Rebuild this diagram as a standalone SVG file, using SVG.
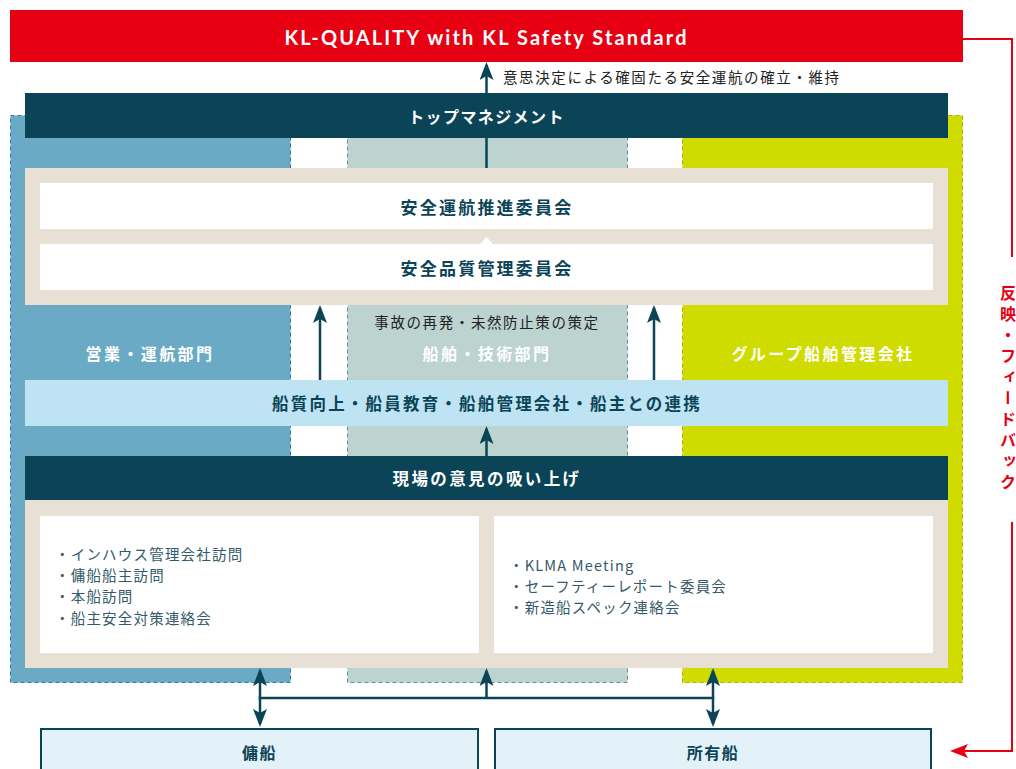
<svg xmlns="http://www.w3.org/2000/svg" width="1016" height="769" viewBox="0 0 1016 769">
<style>
.jp{font-family:'Noto Sans CJK JP','Noto Sans',sans-serif;dominant-baseline:central}
.b{font-weight:700}
.dk{fill:#0b4457}
.wh{fill:#ffffff}
.lst{fill:#34596a;font-size:14.5px;letter-spacing:1.2px}
.lbl{font-size:16px;letter-spacing:2.4px;font-weight:700;fill:#ffffff}
.cn{stroke:#0b4457;stroke-width:2.5;fill:none}
</style>
<defs>
<marker id="ah" viewBox="0 0 18 14" refX="15" refY="7" markerWidth="18" markerHeight="14" markerUnits="userSpaceOnUse" orient="auto-start-reverse">
<path d="M0,0 L18,7 L0,14 L4,7 Z" fill="#0b4457"/>
</marker>
<marker id="ahr" viewBox="0 0 18 14" refX="15" refY="7" markerWidth="18" markerHeight="14" markerUnits="userSpaceOnUse" orient="auto">
<path d="M0,0 L18,7 L0,14 L4,7 Z" fill="#e60012"/>
</marker>
</defs>
<rect width="1016" height="769" fill="#ffffff"/>

<g id="col-sales">
<rect x="10.5" y="115.5" width="280" height="567" fill="#6aaac5" stroke="#2d7ea6" stroke-width="1" stroke-dasharray="4 3"/>
<text class="jp lbl" x="150" y="353" text-anchor="middle">営業・運航部門</text>
</g>
<g id="col-tech">
<rect x="347.5" y="115.5" width="280" height="567" fill="#bcd3cf" stroke="#6a8b9a" stroke-width="1" stroke-dasharray="4 3"/>
<text class="jp lbl" x="487" y="353" text-anchor="middle">船舶・技術部門</text>
</g>
<g id="col-group">
<rect x="682.5" y="115.5" width="280" height="567" fill="#d0db00" stroke="#a8b000" stroke-width="1" stroke-dasharray="4 3"/>
<text class="jp lbl" x="823" y="353" text-anchor="middle">グループ船舶管理会社</text>
</g>

<g id="kl-quality">
<rect x="10" y="10" width="953" height="52" fill="#e60012"/>
<text x="486.5" y="37" text-anchor="middle" style="font-family:Lato,'Noto Sans',sans-serif;font-weight:700;font-size:20px;letter-spacing:2.1px;fill:#fff;dominant-baseline:central">KL-QUALITY with KL Safety Standard</text>
</g>

<g id="top-management">
<rect x="25" y="93" width="923" height="45" fill="#0b4457"/>
<text class="jp b wh" x="486.5" y="115.5" text-anchor="middle" style="font-size:16px;letter-spacing:1.4px">トップマネジメント</text>
</g>

<g id="committees">
<rect x="25" y="168" width="923" height="137" fill="#e8dfd5"/>
<rect x="40" y="183" width="893" height="46" fill="#ffffff"/>
<rect x="40" y="244" width="893" height="46" fill="#ffffff"/>
<polygon points="480,244 493,244 486.5,237" fill="#ffffff"/>
<text class="jp b dk" x="487" y="206" text-anchor="middle" style="font-size:17px;letter-spacing:2.2px">安全運航推進委員会</text>
<text class="jp b dk" x="487" y="267" text-anchor="middle" style="font-size:17px;letter-spacing:2.2px">安全品質管理委員会</text>
</g>

<g id="cooperation">
<rect x="25" y="380" width="923" height="46" fill="#bee3f2"/>
<text class="jp b dk" x="487" y="403" text-anchor="middle" style="font-size:16.5px;letter-spacing:2.2px">船質向上・船員教育・船舶管理会社・船主との連携</text>
</g>

<g id="field-opinions">
<rect x="25" y="456" width="923" height="44" fill="#0b4457"/>
<text class="jp b wh" x="487" y="478" text-anchor="middle" style="font-size:16.5px;letter-spacing:2.4px">現場の意見の吸い上げ</text>
<rect x="25" y="500" width="923" height="168" fill="#e8dfd5"/>
<rect x="40" y="516" width="439" height="137" fill="#ffffff"/>
<rect x="494" y="516" width="439" height="137" fill="#ffffff"/>
<text class="jp lst" x="55" y="553.5">・インハウス管理会社訪問</text>
<text class="jp lst" x="55" y="574.5">・傭船船主訪問</text>
<text class="jp lst" x="55" y="595.5">・本船訪問</text>
<text class="jp lst" x="55" y="617">・船主安全対策連絡会</text>
<text class="jp lst" x="509" y="564">・KLMA Meeting</text>
<text class="jp lst" x="509" y="585">・セーフティーレポート委員会</text>
<text class="jp lst" x="509" y="606">・新造船スペック連絡会</text>
</g>

<g id="chartered">
<rect x="41" y="729" width="437" height="50" fill="#e3f1f9" stroke="#0b4457" stroke-width="2"/>
<text class="jp b dk" x="259.5" y="752" text-anchor="middle" style="font-size:16px;letter-spacing:1.5px">傭船</text>
</g>
<g id="owned">
<rect x="495" y="729" width="436" height="50" fill="#e3f1f9" stroke="#0b4457" stroke-width="2"/>
<text class="jp b dk" x="713" y="752" text-anchor="middle" style="font-size:16px;letter-spacing:1.5px">所有船</text>
</g>

<g id="connectors">
<line class="cn" x1="486.5" y1="93" x2="486.5" y2="65" marker-end="url(#ah)"/>
<text class="jp" x="503" y="76.5" style="font-size:14.5px;letter-spacing:1.6px;fill:#222">意思決定による確固たる安全運航の確立・維持</text>
<line class="cn" x1="486.5" y1="138" x2="486.5" y2="168"/>
<line class="cn" x1="320" y1="380" x2="320" y2="308" marker-end="url(#ah)"/>
<line class="cn" x1="654" y1="380" x2="654" y2="308" marker-end="url(#ah)"/>
<text class="jp" x="487" y="321" text-anchor="middle" style="font-size:14.5px;letter-spacing:1.6px;fill:#222">事故の再発・未然防止策の策定</text>
<line class="cn" x1="486.5" y1="456" x2="486.5" y2="429" marker-end="url(#ah)"/>
<line class="cn" x1="260" y1="724" x2="260" y2="671" marker-start="url(#ah)" marker-end="url(#ah)"/>
<line class="cn" x1="713" y1="724" x2="713" y2="671" marker-start="url(#ah)" marker-end="url(#ah)"/>
<line class="cn" x1="486.5" y1="698" x2="486.5" y2="671" marker-end="url(#ah)"/>
<line class="cn" x1="258.75" y1="698" x2="714.25" y2="698"/>
<polyline points="963,39 1012,39 1012,257" fill="none" stroke="#e60012" stroke-width="2"/>
<polyline points="1012,522 1012,751 953,751" fill="none" stroke="#e60012" stroke-width="2" marker-end="url(#ahr)"/>
<text x="1008" y="285" writing-mode="vertical-rl" style="font-family:'Noto Sans CJK JP',sans-serif;font-weight:700;font-size:16px;letter-spacing:5px;fill:#e60012">反映・フィードバック</text>
</g>
</svg>
